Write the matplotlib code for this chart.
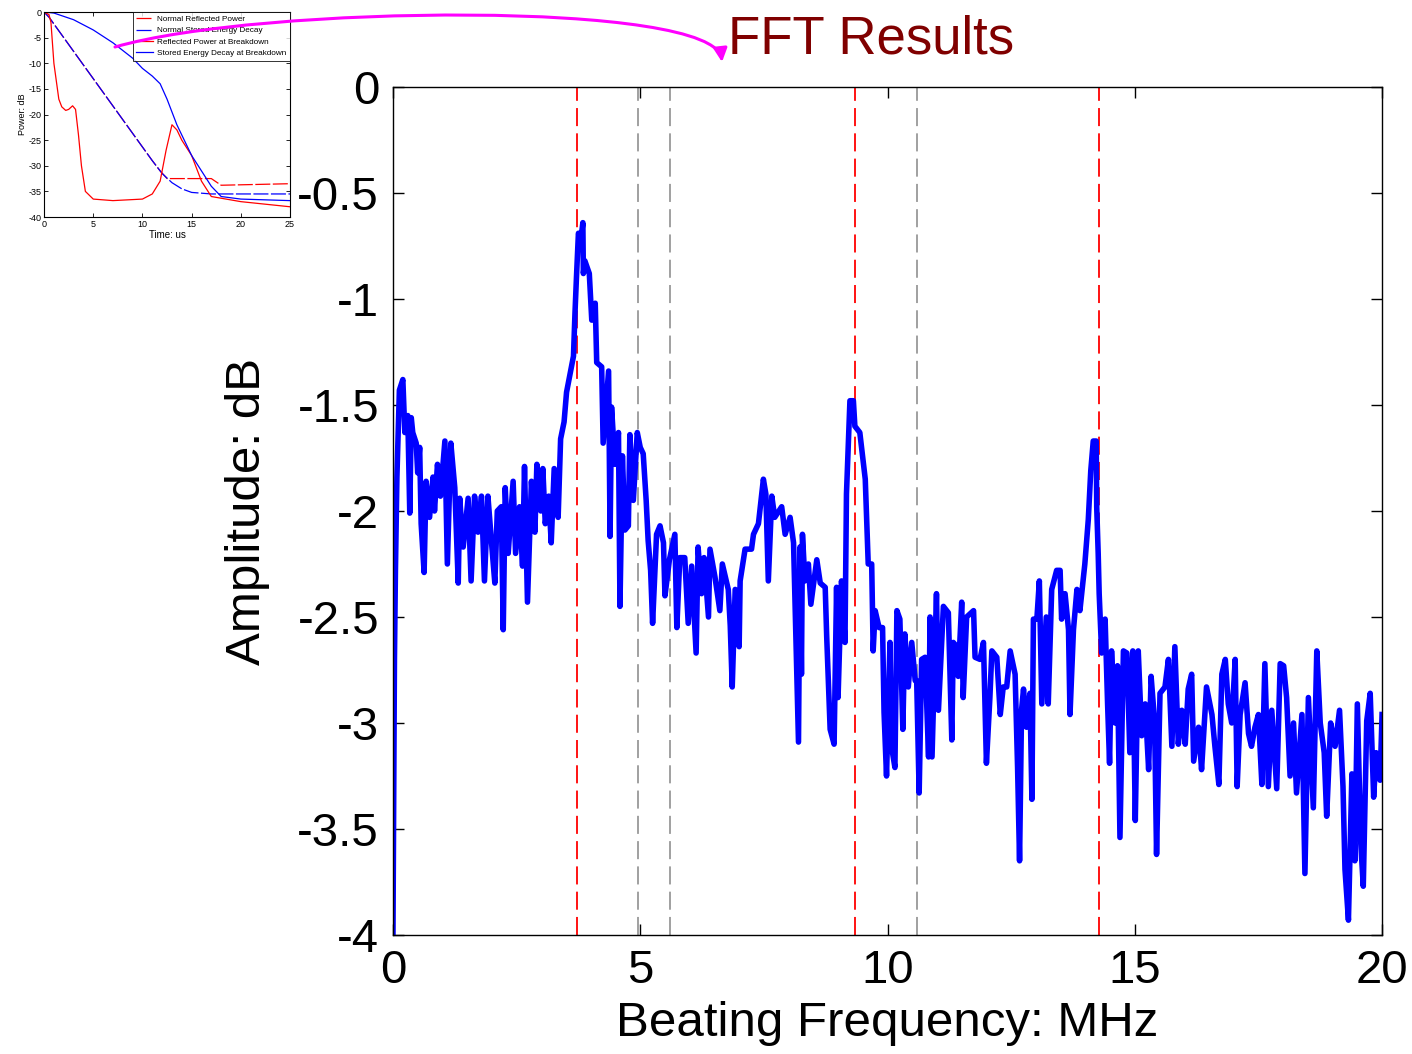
import matplotlib
matplotlib.use("Agg")
import matplotlib.pyplot as plt
from matplotlib.patches import FancyArrowPatch
from matplotlib.path import Path

plt.rcParams['font.family'] = ['Liberation Sans', 'DejaVu Sans']

# FFT spectrum
freq_mhz = [
    0.00, 0.03, 0.05, 0.08, 0.13, 0.20, 0.24, 0.30, 0.34, 0.37, 0.40, 0.47, 0.50, 0.54, 0.57, 0.63,
    0.67, 0.74, 0.81, 0.84, 0.90, 0.96, 1.05, 1.10, 1.17, 1.25, 1.32, 1.35, 1.42, 1.52, 1.58, 1.65,
    1.72, 1.79, 1.85, 1.92, 1.99, 2.06, 2.11, 2.19, 2.23, 2.27, 2.33, 2.43, 2.48, 2.56, 2.62, 2.66,
    2.72, 2.80, 2.87, 2.91, 2.99, 3.03, 3.08, 3.15, 3.20, 3.26, 3.34, 3.39, 3.46,
    3.51, 3.65, 3.68, 3.71, 3.75, 3.80, 3.84, 3.85, 3.88, 3.97, 4.02, 4.09, 4.12, 4.22, 4.25, 4.36,
    4.39, 4.42, 4.49, 4.56, 4.59, 4.64, 4.69, 4.76, 4.79, 4.86, 4.94, 5.00, 5.06, 5.12, 5.16, 5.21,
    5.25, 5.33, 5.40, 5.47, 5.50, 5.59, 5.70, 5.74, 5.80, 5.90, 5.97, 6.04, 6.13, 6.17, 6.24, 6.29,
    6.38, 6.41, 6.51, 6.61, 6.66, 6.78, 6.82, 6.86, 6.92, 7.00,
    7.02, 7.12, 7.25, 7.29, 7.39, 7.49, 7.54, 7.59, 7.66, 7.72, 7.86, 7.93, 8.03, 8.10, 8.15, 8.20,
    8.23, 8.26, 8.28, 8.33, 8.40, 8.45, 8.57, 8.64, 8.74, 8.77, 8.84, 8.92, 8.97, 9.00, 9.07, 9.14,
    9.17, 9.24, 9.31, 9.34, 9.44, 9.55, 9.61, 9.68, 9.71, 9.75, 9.83, 9.90, 9.93, 9.98, 10.05, 10.08,
    10.15, 10.19, 10.25, 10.31, 10.35, 10.42, 10.49, 10.56, 10.59, 10.64, 10.69, 10.76, 10.83,
    10.86, 10.90, 10.99, 11.03, 11.13, 11.23, 11.30, 11.33, 11.40, 11.43, 11.50, 11.53, 11.60, 11.74,
    11.77, 11.87, 11.94, 12.00, 12.07, 12.11, 12.21, 12.28, 12.34, 12.41, 12.48, 12.58, 12.63, 12.67,
    12.71, 12.75, 12.81, 12.88, 12.92, 12.95, 13.02, 13.07, 13.12, 13.21, 13.25, 13.32, 13.42, 13.49,
    13.52, 13.59, 13.66, 13.69, 13.76, 13.83,
    13.89, 13.99, 14.06, 14.11, 14.16, 14.22, 14.23, 14.26, 14.28, 14.33, 14.40, 14.45, 14.49, 14.53,
    14.60, 14.65, 14.70, 14.77, 14.84, 14.90, 14.96, 15.01, 15.07, 15.14, 15.21, 15.28, 15.33, 15.40,
    15.44, 15.51, 15.61, 15.68, 15.75, 15.81, 15.88, 15.95, 16.02, 16.08, 16.15, 16.19, 16.29, 16.35,
    16.45, 16.56, 16.62, 16.70, 16.76, 16.83, 16.89, 16.96, 17.03, 17.07, 17.13, 17.23, 17.30, 17.36,
    17.43, 17.50, 17.57, 17.63, 17.70, 17.77, 17.87, 17.94, 18.01, 18.07, 18.14, 18.21, 18.27, 18.38,
    18.44, 18.51, 18.56, 18.61, 18.68, 18.75, 18.83, 18.88, 18.96, 19.05, 19.14, 19.21, 19.25, 19.32,
    19.39, 19.45, 19.50, 19.57, 19.62, 19.69, 19.76, 19.83, 19.88, 19.96, 20.00,
]
amp_db = [
    -4.00, -2.70, -2.28, -1.84, -1.43, -1.38, -1.63, -1.55, -2.01, -1.56, -1.63, -1.68, -1.82, -1.70, -2.06, -2.29,
    -1.86, -2.03, -1.84, -2.00, -1.78, -1.93, -1.67, -2.25, -1.68, -1.89, -2.34, -1.94, -2.17, -1.94, -2.33, -1.93,
    -2.10, -1.93, -2.33, -1.93, -2.14, -2.34, -2.00, -1.98, -2.56, -1.89, -2.20, -1.86, -2.20, -1.98, -2.26, -1.79,
    -2.43, -1.86, -2.10, -1.78, -2.00, -1.80, -2.06, -1.93, -2.15, -1.80, -2.03, -1.66, -1.58,
    -1.44, -1.27, -1.07, -0.90, -0.69, -0.72, -0.64, -0.88, -0.82, -0.88, -1.10, -1.02, -1.30, -1.32, -1.68, -1.34,
    -2.12, -1.51, -1.78, -1.63, -2.45, -1.74, -2.09, -2.07, -1.64, -1.95, -1.63, -1.70, -1.73, -1.95, -2.14, -2.28,
    -2.53, -2.11, -2.07, -2.15, -2.40, -2.23, -2.11, -2.55, -2.22, -2.22, -2.53, -2.26, -2.67, -2.17, -2.39, -2.22,
    -2.50, -2.18, -2.31, -2.47, -2.25, -2.37, -2.54, -2.83, -2.37, -2.64,
    -2.33, -2.18, -2.18, -2.11, -2.06, -1.85, -1.92, -2.33, -1.93, -2.03, -1.98, -2.11, -2.03, -2.15, -2.61, -3.09,
    -2.17, -2.77, -2.11, -2.33, -2.25, -2.44, -2.23, -2.34, -2.36, -2.59, -3.03, -3.10, -2.36, -2.88, -2.33, -2.62,
    -1.92, -1.48, -1.48, -1.60, -1.63, -1.85, -2.25, -2.25, -2.66, -2.47, -2.55, -2.55, -2.95, -3.25, -2.62, -3.11,
    -3.21, -2.47, -2.51, -3.03, -2.58, -2.83, -2.62, -2.80, -2.80, -3.33, -2.70, -2.69, -3.16,
    -2.50, -3.16, -2.39, -2.94, -2.45, -2.48, -3.08, -2.62, -2.64, -2.78, -2.43, -2.88, -2.50, -2.47,
    -2.69, -2.70, -2.62, -3.19, -2.88, -2.66, -2.69, -2.96, -2.83, -2.83, -2.66, -2.77, -3.21, -3.65,
    -2.94, -2.84, -3.02, -2.86, -3.36, -2.51, -2.51, -2.33, -2.91, -2.50, -2.91, -2.37, -2.28, -2.28,
    -2.51, -2.39, -2.56, -2.96, -2.56, -2.37,
    -2.47, -2.25, -2.04, -1.81, -1.67, -1.67, -1.98, -2.20, -2.39, -2.67, -2.51, -2.91, -3.19, -2.66,
    -3.00, -2.73, -3.54, -2.66, -2.67, -3.14, -2.66, -3.46, -2.66, -3.06, -2.91, -3.22, -2.78, -2.99,
    -3.62, -2.86, -2.83, -2.70, -3.11, -2.64, -3.10, -2.94, -3.10, -2.84, -2.77, -3.18, -3.02, -3.22,
    -2.83, -2.96, -3.11, -3.29, -2.77, -2.70, -2.91, -3.00, -2.70, -3.30, -2.96, -2.81, -3.05, -3.11,
    -3.02, -2.96, -3.29, -2.72, -3.30, -2.94, -3.31, -2.72, -2.73, -2.88, -3.25, -3.00, -3.33, -2.96,
    -3.71, -2.88, -3.14, -3.40, -2.66, -3.00, -3.14, -3.44, -3.00, -3.11, -2.94, -3.30, -3.69, -3.93,
    -3.24, -3.65, -2.91, -3.57, -3.77, -2.99, -2.86, -3.35, -3.14, -3.27, -2.96,
]

red_marks = [3.72, 9.34, 14.28]
gray_marks = [4.95, 5.60, 10.59]

x_ticks = [0, 5, 10, 15, 20]
y_ticks = [0, -0.5, -1, -1.5, -2, -2.5, -3, -3.5, -4]
y_tick_labels = ['0', '-0.5', '-1', '-1.5', '-2', '-2.5', '-3', '-3.5', '-4']

# inset: time-domain decay curves (us, dB)
t_norm_refl = [0, 0.5, 11.0, 11.8, 12.5, 17.0, 18.0, 25.0]
p_norm_refl = [0, -1.0, -29.0, -31.0, -32.5, -32.5, -33.8, -33.5]
t_norm_store = [0, 0.5, 11.0, 12.0, 13.0, 14.0, 15.0, 17.0, 25.0]
p_norm_store = [0, -1.0, -29.0, -31.5, -33.3, -34.5, -35.2, -35.5, -35.5]
t_bd_refl = [0, 0.5, 0.7, 1.0, 1.5, 1.8, 2.2, 2.5, 2.9, 3.2, 3.5, 3.8, 4.2, 5.0, 7.0, 10.0,
             11.0, 11.8, 12.4, 13.0, 13.5, 14.0, 15.0, 16.0, 17.0, 20.0, 25.0]
p_bd_refl = [0, -0.5, -2, -10, -17, -18.5, -19.2, -19, -18.3, -19, -24, -30, -35, -36.5, -36.8, -36.5,
             -35.5, -33, -27, -22, -23, -25, -28, -33, -36, -37, -38]
t_bd_store = [0, 1, 3, 5, 7, 9, 10, 11, 11.8, 12.5, 13.5, 15, 16, 17, 18, 20, 25]
p_bd_store = [0, -0.2, -1.5, -3.5, -6, -9, -11, -12.5, -14, -17, -22, -28, -31, -34, -36, -36.5, -36.8]

fig = plt.figure(figsize=(14.12, 10.54), dpi=100)

ax = fig.add_axes([0.2783, 0.1129, 0.7005, 0.8046])
for xv in red_marks:
    ax.axvline(xv, color='red', lw=1.3, ls=(0, (10, 4)), zorder=1)
for xv in gray_marks:
    ax.axvline(xv, color='#999999', lw=1.3, ls=(0, (10, 4)), zorder=1)
ax.plot(freq_mhz, amp_db, color='#0000ff', lw=4, zorder=2)

ax.set_xlim(0, 20)
ax.set_ylim(-4, 0)
ax.set_xticks(x_ticks)
ax.set_xticklabels([str(v) for v in x_ticks])
ax.set_yticks(y_ticks)
ax.set_yticklabels(y_tick_labels)
ax.tick_params(direction='in', top=True, right=True, length=8, width=1,
               labelsize=34, pad=10)
ax.set_xlabel('Beating Frequency: MHz', fontsize=35.5, labelpad=6)
ax.set_ylabel('Amplitude: dB', fontsize=35.5, labelpad=20)
for s in ax.spines.values():
    s.set_linewidth(1)

# inset
ins = fig.add_axes([0.0312, 0.7941, 0.1742, 0.1945])
ins.plot(t_norm_refl, p_norm_refl, color='red', lw=0.9, ls=(0, (12, 2)), label='Normal Reflected Power')
ins.plot(t_norm_store, p_norm_store, color='blue', lw=0.9, ls=(0, (12, 2)), label='Normal Stored Energy Decay')
ins.plot(t_bd_refl, p_bd_refl, color='red', lw=0.9, label='Reflected Power at Breakdown')
ins.plot(t_bd_store, p_bd_store, color='blue', lw=0.9, label='Stored Energy Decay at Breakdown')
ins.set_xlim(0, 25)
ins.set_ylim(-40, 0)
ins.set_xticks([0, 5, 10, 15, 20, 25])
ins.set_yticks([0, -5, -10, -15, -20, -25, -30, -35, -40])
ins.set_yticklabels(['0', '-5', '-10', '-15', '-20', '-25', '-30', '-35', '-40'])
ins.tick_params(direction='in', top=True, right=True, length=3, width=0.6, labelsize=6.5, pad=2)
ins.set_xlabel('Time: us', fontsize=7, labelpad=1)
ins.set_ylabel('Power: dB', fontsize=6.5, labelpad=1)
leg = ins.legend(loc='upper right', fontsize=5.9, frameon=True, fancybox=False,
                 handlelength=2.0, handletextpad=0.6, borderpad=0.4, labelspacing=0.45,
                 borderaxespad=0)
leg.get_frame().set_edgecolor('black')
leg.get_frame().set_linewidth(0.7)

# curved magenta pointer from inset to title
W, H = 1412.0, 1054.0
pts = [(115, 47), (260, 5), (715, 0), (722, 62)]
verts = [(px / W, 1 - py / H) for px, py in pts]
arrow_path = Path(verts, [Path.MOVETO, Path.CURVE4, Path.CURVE4, Path.CURVE4])
arr = FancyArrowPatch(path=arrow_path, arrowstyle='-|>,head_length=8,head_width=4',
                      color='#ff00ff', lw=2.2, transform=fig.transFigure, zorder=10)
fig.add_artist(arr)

fig.text(728 / W, 1 - 53 / H, 'FFT Results', color='#800000', fontsize=38,
         ha='left', va='baseline')

fig.savefig('out.png', dpi=100)
